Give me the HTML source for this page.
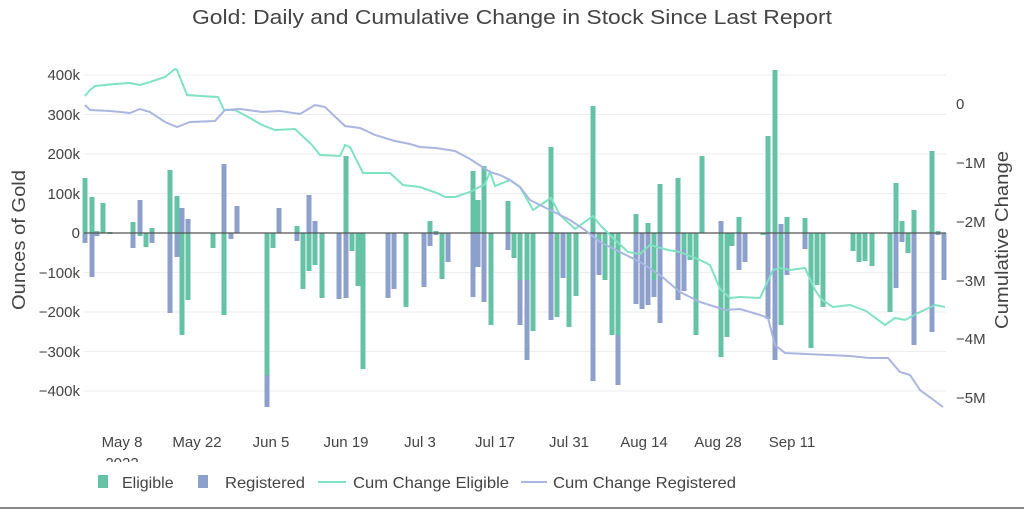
<!DOCTYPE html>
<html><head><meta charset="utf-8"><style>
html,body{margin:0;padding:0;background:#fff;}
svg{display:block;font-family:"Liberation Sans",sans-serif;}
</style></head><body>
<svg id="s" width="1024" height="512" viewBox="0 0 1024 512" xmlns="http://www.w3.org/2000/svg">
<rect width="1024" height="512" fill="#fff"/>
<g id="grid" stroke="#eeeeee" stroke-width="1"></g>
<g id="bars"></g>
<line x1="84" y1="233" x2="946" y2="233" stroke="#555" stroke-width="1.2"/>
<polyline id="lg" fill="none" stroke="#7fe3c2" stroke-width="2"/>
<polyline id="lb" fill="none" stroke="#a9b6e2" stroke-width="2"/>
<text x="512" y="24" font-size="20" fill="#444" text-anchor="middle" textLength="640" lengthAdjust="spacingAndGlyphs">Gold: Daily and Cumulative Change in Stock Since Last Report</text>
<g font-size="15" fill="#444" text-anchor="end">
<text x="80" y="80">400k</text><text x="80" y="120">300k</text><text x="80" y="159">200k</text><text x="80" y="199">100k</text><text x="80" y="238">0</text><text x="80" y="278">−100k</text><text x="80" y="317">−200k</text><text x="80" y="357">−300k</text><text x="80" y="396">−400k</text>
</g>
<g font-size="15" fill="#444">
<text x="956" y="109">0</text><text x="956" y="168">−1M</text><text x="956" y="227">−2M</text><text x="956" y="286">−3M</text><text x="956" y="344">−4M</text><text x="956" y="403">−5M</text>
</g>
<text transform="translate(25,240) rotate(-90)" font-size="18" fill="#444" text-anchor="middle" textLength="140" lengthAdjust="spacingAndGlyphs">Ounces of Gold</text>
<text transform="translate(1008,240) rotate(-90)" font-size="18" fill="#444" text-anchor="middle" textLength="178" lengthAdjust="spacingAndGlyphs">Cumulative Change</text>
<g font-size="15" fill="#444" text-anchor="middle">
<text x="122" y="447">May 8</text><text x="197" y="447">May 22</text><text x="271" y="447">Jun 5</text><text x="346" y="447">Jun 19</text><text x="420" y="447">Jul 3</text><text x="495" y="447">Jul 17</text><text x="569" y="447">Jul 31</text><text x="644" y="447">Aug 14</text><text x="718" y="447">Aug 28</text><text x="792" y="447">Sep 11</text>
</g>
<rect x="80" y="454" width="100" height="20" fill="#fff"/>
<text x="122" y="468" font-size="15" fill="#444" text-anchor="middle">2022</text>
<rect x="80" y="462" width="100" height="12" fill="#fff"/>
<rect x="98" y="475" width="10" height="13" fill="#66c2a5"/>
<text x="122" y="488" font-size="16" fill="#444">Eligible</text>
<rect x="198" y="475" width="10" height="13" fill="#8da0cb"/>
<text x="225" y="488" font-size="16" fill="#444" textLength="80" lengthAdjust="spacingAndGlyphs">Registered</text>
<line x1="318" y1="482" x2="346" y2="482" stroke="#7fe3c2" stroke-width="2"/>
<text x="353" y="488" font-size="16" fill="#444" textLength="156" lengthAdjust="spacingAndGlyphs">Cum Change Eligible</text>
<line x1="521" y1="482" x2="547" y2="482" stroke="#a9b6e2" stroke-width="2"/>
<text x="553" y="488" font-size="16" fill="#444" textLength="183" lengthAdjust="spacingAndGlyphs">Cum Change Registered</text>
<line x1="0" y1="508" x2="1024" y2="508" stroke="#888" stroke-width="2"/>
</svg>
<script>
var ns="http://www.w3.org/2000/svg";
var g=document.getElementById('grid');
for(var i=-4;i<=4;i++){if(i==0)continue;var y=233-i*39.5;var l=document.createElementNS(ns,'line');l.setAttribute('x1',84);l.setAttribute('x2',946);l.setAttribute('y1',y);l.setAttribute('y2',y);g.appendChild(l);}
// [x, Eligible top/bottom y, Registered y] (pixel endpoints, relative stacking)
var B=[[85,178,243],[92,197,277],[97,231,236],[103,203,233],[110,232,234],[133,222,248],[140,236,200],[146,247,233],[152,228,243],
[170,170,313],[177,196,257],[182,335,208],[188,300,219],[213,248,233],[224,315,164],[231,233,239],[237,233,206],[267,375,407],[273,248,233],[279,233,208],
[297,226,241],[303,289,233],[309,271,195],[315,265,221],[322,298,233],[339,233,299],[346,156,298],[352,251,233],[358,286,233],[363,369,233],
[388,233,298],[394,233,289],[406,307,233],[424,233,287],[430,221,246],[436,231,235],[442,279,233],[448,233,262],[473,171,297],[478,200,267],[484,166,302],[491,325,233],
[508,201,250],[514,258,233],[520,280,325],[527,280,360],[533,331,233],[551,147,320],[557,317,233],[563,233,278],[569,327,233],[576,296,233],
[593,106,381],[599,240,275],[605,280,233],[612,335,233],[618,335,385],[636,214,304],[642,233,309],[648,223,305],[654,280,297],[660,184,323],
[678,178,300],[684,250,291],[690,260,233],[696,335,233],[702,156,233],[721,357,221],[727,337,233],[732,246,233],[739,217,270],[745,233,262],[763,235,233],
[768,136,319],[775,70,360],[781,325,224],[787,217,275],[805,218,249],[811,348,233],[817,285,233],[823,307,233],
[853,251,233],[859,262,233],[865,261,233],[872,266,233],[890,312,233],[896,183,288],[902,221,242],[908,253,233],[914,210,345],[932,151,332],[938,231,235],[944,233,280]];
var bg=document.getElementById('bars');
function r(x,y1,y2,c){if(Math.abs(y2-y1)<0.5)return;var e=document.createElementNS(ns,'rect');e.setAttribute('x',x-2.5);e.setAttribute('width',5);e.setAttribute('y',Math.min(y1,y2));e.setAttribute('height',Math.abs(y2-y1));e.setAttribute('fill',c);bg.appendChild(e);}
B.forEach(function(b){var x=b[0],E=b[1],R=b[2];var G='#66c2a5',Bl='#8da0cb';
if(E<=233&&R<=233){r(x,233,E,G);}else if(E>=233&&R>=233){r(x,233,E,G);}
// relative stacking
var up=233,dn=233;
[[E,G],[R,Bl]].forEach(function(s){var v=s[0];});
bg.innerHTML='';});
// redo properly
B.forEach(function(b){var x=b[0],E=b[1],R=b[2];
 if(E<233&&R<233){var top=Math.min(E,R);r(x,233,top,'#66c2a5');}
 else if(E>233&&R>233){var ed=Math.min(E,R),rd=Math.max(E,R);r(x,233,ed,'#66c2a5');r(x,ed,rd,'#8da0cb');}
 else{r(x,233,E,'#66c2a5');r(x,233,R,'#8da0cb');}
});
var LG=[[85,96],[90,90],[95,86],[105,85],[115,84],[130,83],[140,85],[150,82],[165,77],[175,69],[177,70],[187,95],[200,96],[218,97],[224,110],[235,110],[250,118],[262,125],[275,130],[295,129],[312,145],[320,155],[340,156],[345,145],[350,147],[363,173],[390,173],[403,185],[420,187],[437,193],[445,197],[455,197],[470,192],[485,184],[490,172],[495,186],[510,180],[520,187],[533,210],[551,198],[560,215],[575,229],[593,216],[600,225],[615,240],[628,252],[640,254],[650,245],[668,250],[680,252],[700,260],[710,265],[720,289],[730,298],[740,297],[760,298],[773,270],[780,268],[790,270],[805,268],[815,290],[822,300],[833,307],[850,305],[866,311],[885,325],[895,318],[905,320],[918,313],[935,305],[945,307]];
var LB=[[85,105],[90,110],[110,111],[130,113],[140,109],[150,112],[165,122],[177,127],[190,122],[215,121],[225,110],[240,109],[262,112],[280,111],[300,114],[315,105],[325,107],[345,126],[360,128],[375,135],[395,141],[410,144],[420,147],[436,148],[455,151],[470,159],[490,172],[500,175],[510,180],[520,187],[530,200],[550,210],[570,220],[585,230],[600,242],[620,252],[640,262],[660,275],[680,292],[700,302],[725,310],[740,309],[760,315],[768,318],[775,345],[785,353],[850,356],[870,358],[888,358],[900,372],[910,375],[920,390],[935,401],[943,407]];
document.getElementById('lg').setAttribute('points',LG.map(function(p){return p.join(',')}).join(' '));
document.getElementById('lb').setAttribute('points',LB.map(function(p){return p.join(',')}).join(' '));
</script>
</body></html>
